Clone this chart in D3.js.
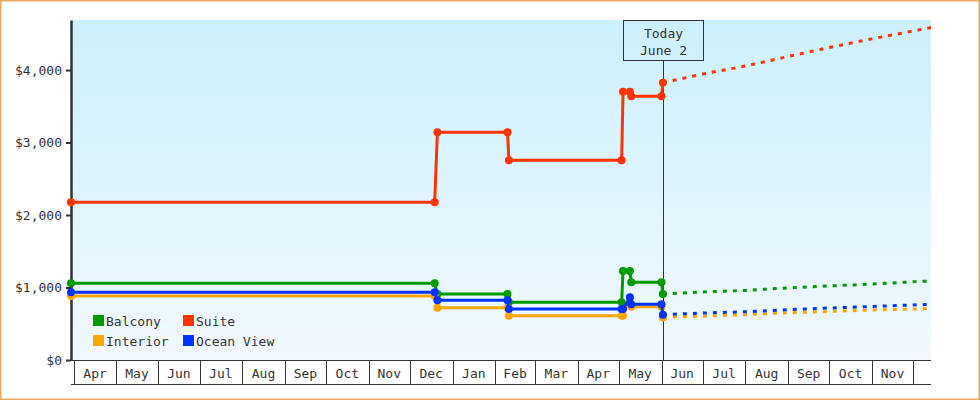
<!DOCTYPE html>
<html>
<head>
<meta charset="utf-8">
<script src="https://cdn.jsdelivr.net/npm/d3@7"></script>
<style>
  html, body { margin: 0; padding: 0; background: #ffffff; }
  svg { display: block; }
  text { font-family: "DejaVu Sans Mono", monospace; font-size: 13px; fill: #333; }
</style>
</head>
<body>
<svg id="chart" width="980" height="400"></svg>
<script>
// ---------- DATA ----------
const seriesNames = ["Balcony", "Suite", "Interior", "Ocean View"];

const historyDates = ["2011-03-29T12:00Z", "2011-12-19", "2011-12-21", "2012-02-10", "2012-02-11",
                      "2012-05-03", "2012-05-04", "2012-05-09", "2012-05-10", "2012-06-01", "2012-06-02"];
const balconyHistory   = [1058, 1058, 910, 910, 796, 796, 1228, 1228, 1072, 1072, 910];
const suiteHistory     = [2175, 2175, 3141, 3141, 2755, 2755, 3701, 3701, 3637, 3637, 3825];
const interiorHistory  = [883, 883, 722, 722, 611, 611, 611, 855, 735, 735, 585];
const oceanViewHistory = [934, 934, 823, 823, 703, 703, 703, 865, 770, 770, 625];

const forecastDates = ["2012-06-02", "2012-07-01", "2012-08-01", "2012-09-01", "2012-10-01",
                       "2012-11-01", "2012-12-01", "2012-12-14"];
const balconyForecast   = [910, 938, 960, 995, 1021, 1048, 1079, 1090];
const suiteForecast     = [3825, 3945, 4055, 4186, 4310, 4430, 4538, 4586];
const interiorForecast  = [590, 605, 625, 650, 670, 690, 703, 713];
const oceanViewForecast = [625, 648, 665, 695, 717, 738, 759, 768];

const monthLabels = ["Apr", "May", "Jun", "Jul", "Aug", "Sep", "Oct", "Nov", "Dec", "Jan",
                     "Feb", "Mar", "Apr", "May", "Jun", "Jul", "Aug", "Sep", "Oct", "Nov"];
const yTickValues = [0, 1000, 2000, 3000, 4000];
const todayDate = "2012-06-02";
const todayLabel = ["Today", "June 2"];
const domainStart = "2011-03-29T12:00Z";
const domainEnd = "2012-12-14";
const yMax = 4690;

// ---------- STYLE ----------
const colors = { "Balcony": "#009900", "Suite": "#ff3300", "Interior": "#ffa500", "Ocean View": "#0033ff" };
const drawOrder = ["Suite", "Balcony", "Interior", "Ocean View"];

const pLeft = 71, pRight = 931, pTop = 20, pBottom = 360, cellBottom = 385;

const parse = d3.isoParse;
const histBySeries = {
  "Balcony": balconyHistory, "Suite": suiteHistory,
  "Interior": interiorHistory, "Ocean View": oceanViewHistory
};
const fcBySeries = {
  "Balcony": balconyForecast, "Suite": suiteForecast,
  "Interior": interiorForecast, "Ocean View": oceanViewForecast
};

const svg = d3.select("#chart");

const x = d3.scaleUtc().domain([parse(domainStart), parse(domainEnd)]).range([pLeft, pRight]);
const y = d3.scaleLinear().domain([0, yMax]).range([pBottom, pTop]);

// background gradient
const defs = svg.append("defs");
const grad = defs.append("linearGradient").attr("id", "bg").attr("x1", 0).attr("y1", 0).attr("x2", 0).attr("y2", 1);
grad.append("stop").attr("offset", "0%").attr("stop-color", "#ccf0fc");
grad.append("stop").attr("offset", "100%").attr("stop-color", "#f1f9fe");

svg.append("rect").attr("x", pLeft).attr("y", pTop).attr("width", pRight - pLeft).attr("height", pBottom - pTop)
  .attr("fill", "url(#bg)");

// outer border
svg.append("rect").attr("x", 0.75).attr("y", 0.75).attr("width", 978.5).attr("height", 398.5)
  .attr("fill", "none").attr("stroke", "#e8a862").attr("stroke-width", 1.5);

// x-axis month cells
const months = d3.utcMonth.range(d3.utcMonth.ceil(parse(domainStart)), parse(domainEnd));
const xg = svg.append("g");
xg.append("line").attr("x1", pLeft).attr("x2", pRight).attr("y1", pBottom + 0.5).attr("y2", pBottom + 0.5)
  .attr("stroke", "#333").attr("stroke-width", 1);
xg.append("line").attr("x1", pLeft).attr("x2", pRight).attr("y1", cellBottom - 0.5).attr("y2", cellBottom - 0.5)
  .attr("stroke", "#333").attr("stroke-width", 1);
xg.selectAll("line.cell").data(months).join("line").attr("class", "cell")
  .attr("x1", d => Math.round(x(d)) + 0.5).attr("x2", d => Math.round(x(d)) + 0.5)
  .attr("y1", pBottom).attr("y2", cellBottom)
  .attr("stroke", "#333").attr("stroke-width", 1);
xg.selectAll("text").data(months.slice(0, monthLabels.length)).join("text")
  .attr("x", d => (x(d) + x(d3.utcMonth.offset(d, 1))) / 2)
  .attr("y", 373)
  .attr("dy", "0.35em")
  .attr("text-anchor", "middle")
  .text((d, i) => monthLabels[i]);

// y axis
const yAxis = d3.axisLeft(y).tickValues(yTickValues)
  .tickFormat(d => "$" + d3.format(",")(d)).tickSize(5).tickSizeOuter(0).tickPadding(4);
const yg = svg.append("g").attr("transform", `translate(${pLeft},0)`).call(yAxis);
yg.attr("font-family", null).attr("font-size", null);
yg.select(".domain").attr("stroke", "#333").attr("stroke-width", 2.5);
yg.selectAll(".tick line").attr("stroke", "#333").attr("stroke-width", 2);
yg.selectAll(".tick text").attr("fill", "#333");

// today marker
const tx = Math.round(x(parse(todayDate))) + 0.5;
svg.append("line").attr("x1", tx).attr("x2", tx).attr("y1", 60).attr("y2", pBottom)
  .attr("stroke", "#333").attr("stroke-width", 1);
svg.append("rect").attr("x", tx - 40).attr("y", pTop + 0.5).attr("width", 80).attr("height", 40)
  .attr("fill", "none").attr("stroke", "#333").attr("stroke-width", 1);
svg.append("text").attr("x", tx).attr("y", 33).attr("dy", "0.35em").attr("text-anchor", "middle").text(todayLabel[0]);
svg.append("text").attr("x", tx).attr("y", 50).attr("dy", "0.35em").attr("text-anchor", "middle").text(todayLabel[1]);

// series
const line = d3.line().x(d => x(d[0])).y(d => y(d[1]));
const hd = historyDates.map(parse);
const fd = forecastDates.map(parse);

drawOrder.forEach(name => {
  const c = colors[name];
  const fc = fd.map((d, i) => [d, fcBySeries[name][i]]);
  svg.append("path").datum(fc).attr("d", line).attr("fill", "none")
    .attr("stroke", c).attr("stroke-width", 3).attr("stroke-dasharray", "4,6")
    .attr("stroke-dashoffset", -10);
});
drawOrder.forEach(name => {
  const c = colors[name];
  const h = hd.map((d, i) => [d, histBySeries[name][i]]);
  svg.append("path").datum(h).attr("d", line).attr("fill", "none")
    .attr("stroke", c).attr("stroke-width", 3);
  svg.append("g").selectAll("circle").data(h).join("circle")
    .attr("cx", d => x(d[0])).attr("cy", d => y(d[1])).attr("r", 4).attr("fill", c);
});

// legend
const legendPos = [[93, 315], [183, 315], [93, 335], [183, 335]];
const lg = svg.append("g");
seriesNames.forEach((name, i) => {
  const [lx, ly] = legendPos[i];
  lg.append("rect").attr("x", lx).attr("y", ly).attr("width", 11).attr("height", 11).attr("fill", colors[name]);
  lg.append("text").attr("x", lx + 13).attr("y", ly + 6).attr("dy", "0.35em").text(name);
});
</script>
</body>
</html>
